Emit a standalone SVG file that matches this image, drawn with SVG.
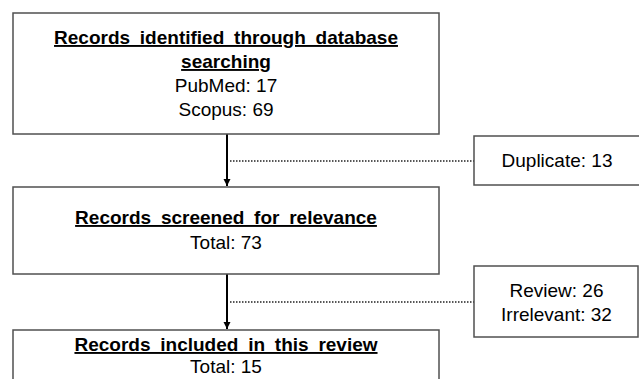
<svg xmlns="http://www.w3.org/2000/svg" width="639" height="379" viewBox="0 0 639 379">
  <style>
    .box { fill: #ffffff; stroke: #505050; stroke-width: 1.5; }
    .t { font-family: "Liberation Sans", Arial, sans-serif; font-size: 19px; fill: #000000; text-anchor: middle; }
    .h { font-weight: bold; text-decoration: underline; word-spacing: 4.5px; }
    .arrow { stroke: #000000; stroke-width: 2; fill: none; }
    .dot { stroke: #202020; stroke-width: 1.5; stroke-dasharray: 1.5 1.5; fill: none; }
  </style>
  <defs>
    <marker id="ah" markerWidth="8" markerHeight="8" refX="7" refY="4" orient="auto" markerUnits="userSpaceOnUse">
      <path d="M0,0.5 L7,4 L0,7.5 Z" fill="#000000"/>
    </marker>
  </defs>
  <rect x="0" y="0" width="639" height="379" fill="#ffffff"/>

  <g id="connectors">
    <line class="arrow" x1="227" y1="134" x2="227" y2="186" marker-end="url(#ah)"/>
    <line class="arrow" x1="227" y1="274" x2="227" y2="329" marker-end="url(#ah)"/>
    <line class="dot" x1="230" y1="161" x2="474" y2="161"/>
    <line class="dot" x1="230" y1="302" x2="474" y2="302"/>
  </g>

  <g id="identified">
    <rect class="box" x="13" y="13" width="426" height="121"/>
    <text class="t h" x="226" y="44">Records identified through database</text>
    <text class="t h" x="226" y="68">searching</text>
    <text class="t" x="226" y="92">PubMed: 17</text>
    <text class="t" x="226" y="116">Scopus: 69</text>
  </g>

  <g id="duplicate">
    <rect class="box" x="474" y="136" width="170" height="49"/>
    <text class="t" x="557" y="167">Duplicate: 13</text>
  </g>

  <g id="screened">
    <rect class="box" x="13" y="187" width="426" height="87"/>
    <text class="t h" x="226" y="224">Records screened for relevance</text>
    <text class="t" x="226" y="249">Total: 73</text>
  </g>

  <g id="excluded">
    <rect class="box" x="474" y="266" width="164" height="71"/>
    <text class="t" x="556.5" y="297">Review: 26</text>
    <text class="t" x="556.5" y="321">Irrelevant: 32</text>
  </g>

  <g id="included">
    <rect class="box" x="13" y="330" width="426" height="60"/>
    <text class="t h" x="226" y="351">Records included in this review</text>
    <text class="t" x="226" y="373">Total: 15</text>
  </g>
</svg>
